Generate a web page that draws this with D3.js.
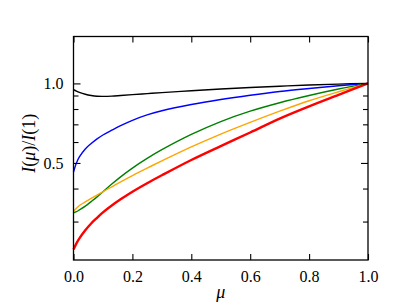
<!DOCTYPE html>
<html><head><meta charset="utf-8">
<script src="https://cdn.jsdelivr.net/npm/d3@7"></script>
<style>body{margin:0;background:#fff}svg{display:block}
text{font-family:'Liberation Serif','DejaVu Serif',serif !important;}</style>
</head><body>
<script>
const mu = [0, 0.01, 0.02, 0.04, 0.06, 0.08, 0.1, 0.13, 0.16, 0.2, 0.25, 0.3, 0.4, 0.5, 0.6, 0.7, 0.8, 0.9, 1.0];
const black  = [0.947,0.935,0.925,0.91,0.90,0.894,0.893,0.895,0.90,0.907,0.915,0.923,0.938,0.952,0.965,0.976,0.986,0.994,1.0];
const blue   = [0.462,0.50,0.527,0.565,0.592,0.617,0.638,0.665,0.692,0.725,0.76,0.788,0.832,0.869,0.902,0.932,0.957,0.98,1.0];
const green  = [0.324,0.327,0.332,0.343,0.357,0.372,0.389,0.416,0.443,0.478,0.52,0.561,0.641,0.717,0.785,0.845,0.90,0.952,1.0];
const orange = [0.328,0.337,0.345,0.356,0.367,0.378,0.389,0.406,0.424,0.448,0.478,0.509,0.575,0.643,0.712,0.785,0.86,0.93,1.0];
const red    = [0.235,0.248,0.259,0.278,0.295,0.31,0.325,0.345,0.364,0.389,0.419,0.449,0.513,0.579,0.652,0.736,0.819,0.905,1.0];
const xTicks = [0, 0.2, 0.4, 0.6, 0.8, 1.0];
const yMajor = [0.5, 1.0];
const yMinor = [0.3, 0.4, 0.6, 0.7, 0.8, 0.9];

const W = 409, H = 307;
const L = 73.5, R = 368, T = 36.5, B = 260;
const svg = d3.select("body").append("svg").attr("width", W).attr("height", H);
const x = d3.scaleLinear().domain([0, 1]).range([L, R]);
const y = d3.scaleLog().domain([0.2146, 1.505]).range([B, T]);

const series = [
  {v: black, c: "#000000", w: 1.4},
  {v: blue, c: "#0000ff", w: 1.4},
  {v: green, c: "#008000", w: 1.4},
  {v: orange, c: "#ffa500", w: 1.4},
  {v: red, c: "#ff0000", w: 2.4}
];
const line = d3.line().x(d => x(d[0])).y(d => y(d[1])).curve(d3.curveCatmullRom.alpha(0.5));
const g = svg.append("g");
series.forEach(s => {
  g.append("path").datum(mu.map((m, i) => [m, s.v[i]]))
    .attr("d", line).attr("fill", "none").attr("stroke", s.c).attr("stroke-width", s.w);
});

const font = "'Liberation Serif', 'DejaVu Serif', serif";
const ax = svg.append("g");
ax.append("g").attr("transform", `translate(0,${B})`)
  .call(d3.axisBottom(x).tickValues(xTicks).tickSizeInner(-6).tickSizeOuter(0).tickPadding(11).tickFormat(d3.format(".1f")));
ax.append("g").attr("transform", `translate(0,${T})`)
  .call(d3.axisTop(x).tickValues(xTicks).tickSizeInner(-6).tickSizeOuter(0).tickFormat(""));
ax.append("g").attr("transform", `translate(${L},0)`)
  .call(d3.axisLeft(y).tickValues(yMajor).tickSizeInner(-7).tickSizeOuter(0).tickPadding(10).tickFormat(d3.format(".1f")));
ax.append("g").attr("transform", `translate(${L},0)`)
  .call(d3.axisLeft(y).tickValues(yMinor).tickSizeInner(-5).tickSizeOuter(0).tickFormat(""));
ax.append("g").attr("transform", `translate(${R},0)`)
  .call(d3.axisRight(y).tickValues(yMajor).tickSizeInner(-7).tickSizeOuter(0).tickFormat(""));
ax.append("g").attr("transform", `translate(${R},0)`)
  .call(d3.axisRight(y).tickValues(yMinor).tickSizeInner(-5).tickSizeOuter(0).tickFormat(""));
ax.selectAll(".domain").remove();
ax.selectAll("g").attr("font-family", null);
ax.selectAll("line").attr("stroke", "#000").attr("stroke-width", 1.1);
ax.selectAll("text").style("font-family", font).style("font-size", "16px").attr("fill", "#000");

svg.append("rect").attr("x", L).attr("y", T).attr("width", R - L).attr("height", B - T)
  .attr("fill", "none").attr("stroke", "#000").attr("stroke-width", 1.3);

svg.append("text").attr("x", (L + R) / 2).attr("y", 298).attr("text-anchor", "middle")
  .style("font-family", font).style("font-size", "18px").attr("font-style", "italic").text("μ");

const yt = svg.append("text").attr("transform", `translate(35,${(T + B) / 2 - 5}) rotate(-90)`)
  .attr("text-anchor", "middle").style("font-family", font).style("font-size", "18px");
yt.append("tspan").attr("font-style", "italic").text("I");
yt.append("tspan").text("(");
yt.append("tspan").attr("font-style", "italic").text("μ");
yt.append("tspan").text(")/");
yt.append("tspan").attr("font-style", "italic").text("I");
yt.append("tspan").text("(1)");
</script>
</body></html>
